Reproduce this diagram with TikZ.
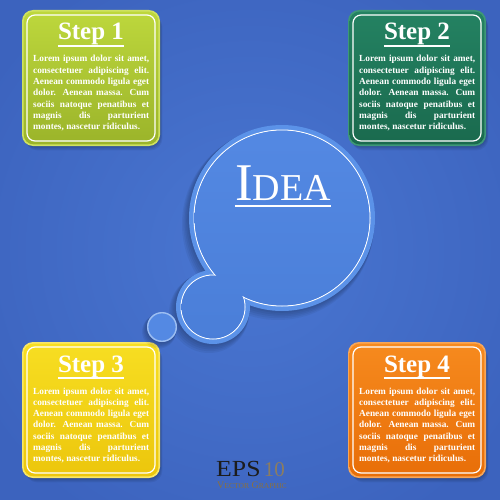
\documentclass[tikz,border=0pt]{standalone}
\usepackage{fontspec}
\setmainfont{Liberation Serif}
\definecolor{bgin}{HTML}{4A77D2}
\definecolor{bgout}{HTML}{3C63BE}
\definecolor{limeT}{HTML}{BDD73C}
\definecolor{limeB}{HTML}{9BB42A}
\definecolor{limeR}{HTML}{CFE260}
\definecolor{tealT}{HTML}{248262}
\definecolor{tealB}{HTML}{1A6A4E}
\definecolor{tealR}{HTML}{3E9877}
\definecolor{yelT}{HTML}{F7DE22}
\definecolor{yelB}{HTML}{ECC60C}
\definecolor{yelR}{HTML}{F9E766}
\definecolor{orT}{HTML}{F68A1E}
\definecolor{orB}{HTML}{E86E08}
\definecolor{orR}{HTML}{F8A657}
\definecolor{bubRim}{HTML}{5B92E8}
\definecolor{bubT}{HTML}{5489E3}
\definecolor{bubB}{HTML}{4A7ED8}
\definecolor{epsblack}{HTML}{1C1C1C}
\definecolor{epsgray}{HTML}{8C7D60}
\definecolor{epsgold}{HTML}{8A7040}
\newcommand\loremtext{Lorem ipsum dolor sit amet,\linebreak consectetuer adipiscing elit.\linebreak Aenean commodo ligula eget\linebreak dolor. Aenean massa. Cum\linebreak sociis natoque penatibus et\linebreak magnis dis parturient\linebreak montes, nascetur ridiculus.}
\tikzset{
  x=1pt, y=-1pt,
  steptitle/.style={anchor=base, inner sep=0pt, text=white, font=\fontsize{25}{25}\selectfont\bfseries},
  stepbody/.style={anchor=base west, inner sep=0pt, text=white, font=\fontsize{9.3}{11.3}\selectfont\bfseries},
}
\newcommand\stepbox[6]{%
  \begin{scope}[shift={(#1,#2)}]
    \foreach \i in {1,...,4}
      \fill[black, opacity=0.06, rounded corners=12pt] (1+\i*0.6, 1+\i*1.1) rectangle (138+\i*0.6, 136+\i*1.1);
    \fill[#5, rounded corners=11pt] (0,0) rectangle (138,136);
    \shade[top color=#3, bottom color=#4, rounded corners=10pt] (1.6,1.6) rectangle (136.4,134.4);
    \draw[white, line width=1.2pt, rounded corners=8pt] (5,5) rectangle (133,131);
    \node[steptitle] (t#6) at (69,30) {Step #6};
    \draw[white, line width=1.3pt] ([yshift=-6pt]t#6.base west) -- ([yshift=-6pt]t#6.base east);
    \node[stepbody] (b#6) at (11,52) {\parbox[t]{116pt}{\hyphenpenalty=10000\loremtext}};
  \end{scope}}
\begin{document}
\begin{tikzpicture}
\useasboundingbox (0,0) rectangle (500,500);
\shade[inner color=bgin, outer color=bgout] (-60,-60) rectangle (560,560);
% boxes
\stepbox{22}{10}{limeT}{limeB}{limeR}{1}
\stepbox{348}{10}{tealT}{tealB}{tealR}{2}
\stepbox{22}{342}{yelT}{yelB}{yelR}{3}
\stepbox{348}{342}{orT}{orB}{orR}{4}
% bubble shadow
\foreach \i in {1,...,5} {
  \fill[black, opacity=0.05] (282-\i*0.8,218+\i*1.2) circle[radius=93pt+\i*0.6pt];
  \fill[black, opacity=0.05] (213-\i*0.8,307+\i*1.2) circle[radius=37pt+\i*0.6pt];
  \fill[black, opacity=0.05] (162-\i*0.6,327+\i*0.9) circle[radius=15pt+\i*0.4pt];
}
% bubble rim
\fill[bubRim] (282,218) circle[radius=93pt];
\fill[bubRim] (213,307) circle[radius=37pt];
% white inner line
\draw[white, line width=1pt] (282,218) circle[radius=88pt];
\draw[white, line width=1pt] (213,307) circle[radius=32pt];
% fill inside (union of the two inner discs)
\begin{scope}
  \clip (282,218) circle[radius=87.4pt];
  \shade[top color=bubT, bottom color=bubB] (170,120) rectangle (380,345);
\end{scope}
\begin{scope}
  \clip (213,307) circle[radius=31.4pt];
  \shade[top color=bubT, bottom color=bubB] (170,120) rectangle (380,345);
\end{scope}
% small bubble
\fill[bubT] (162,327) circle[radius=15pt];
\draw[bubRim!60!white, line width=1.4pt] (162,327) circle[radius=14.3pt];
% idea
\node[anchor=base, inner sep=0pt, text=white] (idea) at (283,200)
  {{\fontsize{53}{53}\selectfont I}{\fontsize{38}{38}\selectfont DEA}};
\draw[white, line width=2pt] ([yshift=-6pt]idea.base west) -- ([yshift=-6pt]idea.base east);
% EPS logo
\node[anchor=base west, inner sep=0pt, text depth=0pt, text=epsblack, font=\fontsize{23}{23}\selectfont] (eps) at (216,476.5) {\scalebox{1.12}[1]{EPS}};
\node[anchor=base west, inner sep=0pt, text depth=0pt, text=epsgray, font=\fontsize{21}{21}\selectfont] (ten) at ([xshift=3pt]eps.base east) {10};
\node[anchor=base west, inner sep=0pt, text height=6.5pt, text=epsgold] (vg) at (217,488.5)
  {{\fontsize{10}{10}\selectfont V}{\fontsize{7.6}{8}\selectfont ECTOR} {\fontsize{10}{10}\selectfont G}{\fontsize{7.6}{8}\selectfont RAPHIC}};
\end{tikzpicture}
\end{document}
